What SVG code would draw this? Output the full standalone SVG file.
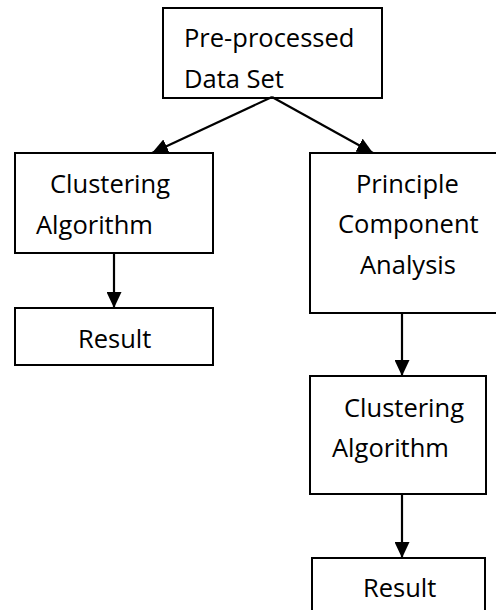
<svg xmlns="http://www.w3.org/2000/svg" width="496" height="610" viewBox="0 0 496 610">
<style>
  rect.box { fill: #ffffff; stroke: #000000; stroke-width: 2; }
  text { font-family: "Open Sans", "Liberation Sans", sans-serif; font-size: 25.5px; fill: #000000; }
  .conn line { stroke: #000000; stroke-width: 2.2; }
</style>
<defs>
  <marker id="arrow" markerUnits="userSpaceOnUse" markerWidth="17" markerHeight="15" refX="16" refY="7.5" orient="auto">
    <path d="M0,0 L16,7.5 L0,15 z" fill="#000000"/>
  </marker>
</defs>
<rect width="496" height="610" fill="#ffffff"/>
<g id="node-data">
  <rect class="box" x="163" y="8" width="219" height="90"/>
  <text x="184" y="47">Pre-processed</text>
  <text x="184" y="88">Data Set</text>
</g>
<g id="node-cluster1">
  <rect class="box" x="15" y="153" width="198" height="100"/>
  <text x="50" y="193">Clustering</text>
  <text x="36" y="234">Algorithm</text>
</g>
<g id="node-result1">
  <rect class="box" x="15" y="308" width="198" height="57"/>
  <text x="78" y="348">Result</text>
</g>
<g id="node-pca">
  <rect class="box" x="310" y="153" width="188" height="160"/>
  <text x="356" y="193">Principle</text>
  <text x="338" y="233">Component</text>
  <text x="360" y="274">Analysis</text>
</g>
<g id="node-cluster2">
  <rect class="box" x="310" y="376" width="176" height="118"/>
  <text x="344" y="417">Clustering</text>
  <text x="332" y="457">Algorithm</text>
</g>
<g id="node-result2">
  <rect class="box" x="312" y="558" width="173" height="60"/>
  <text x="363" y="597">Result</text>
</g>
<g id="connectors" class="conn">
  <line x1="272" y1="97" x2="152" y2="153" marker-end="url(#arrow)"/>
  <line x1="272" y1="97" x2="373" y2="153" marker-end="url(#arrow)"/>
  <line x1="114" y1="253" x2="114" y2="308" marker-end="url(#arrow)"/>
  <line x1="402" y1="313" x2="402" y2="376" marker-end="url(#arrow)"/>
  <line x1="402" y1="494" x2="402" y2="558" marker-end="url(#arrow)"/>
</g>
</svg>
